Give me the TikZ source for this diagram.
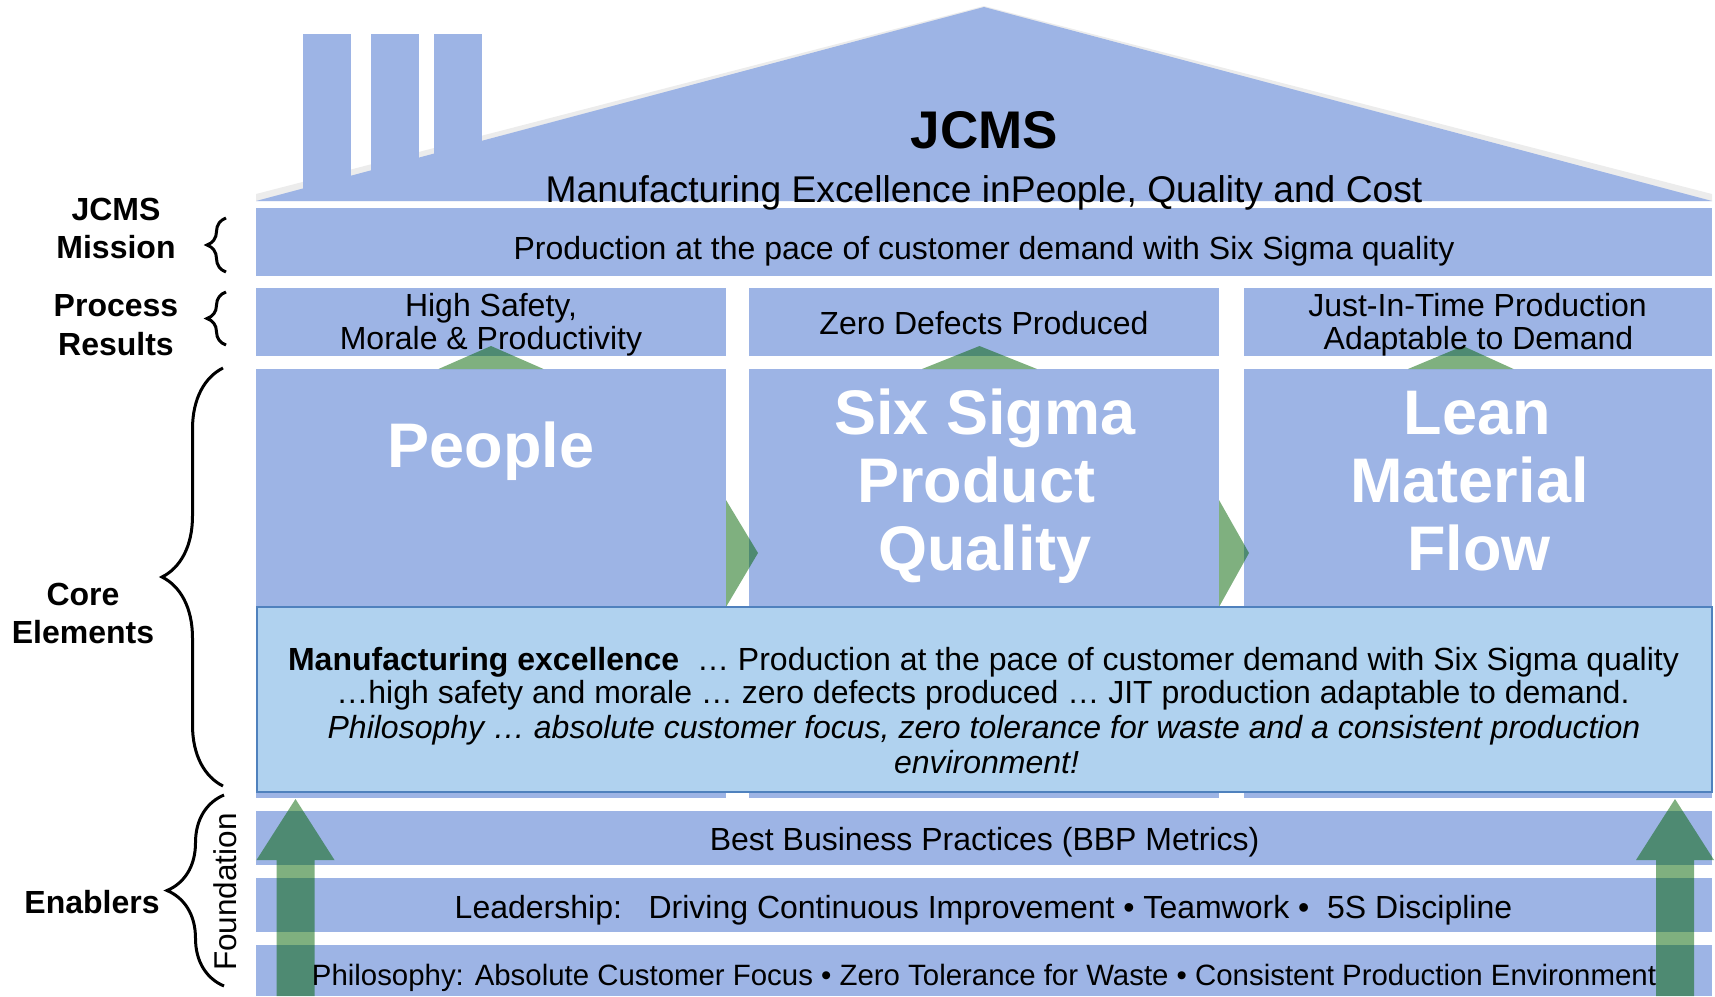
\documentclass[tikz,border=0pt]{standalone}
\usepackage{fontspec}
\setmainfont{Liberation Sans}
\usetikzlibrary{decorations.pathreplacing}
\definecolor{hblue}{RGB}{157,180,229}
\definecolor{lbox}{RGB}{176,210,239}
\definecolor{lborder}{RGB}{79,129,189}
\definecolor{grn}{RGB}{0,97,0}
\tikzset{
  txt/.style={inner sep=0pt, outer sep=0pt, anchor=base, font=\fontsize{32}{34}\selectfont},
  lbl/.style={txt, font=\fontsize{32}{34}\selectfont\bfseries},
  big/.style={txt, text=white, font=\fontsize{63}{68}\selectfont\bfseries},
  bar/.style={fill=hblue},
  tri/.style={fill=grn, fill opacity=0.5},
  brc/.style={draw=black, line width=3pt, decorate, decoration={brace, amplitude=#1}},
}
\begin{document}
\begin{tikzpicture}[x=1pt,y=-1pt]
\useasboundingbox (0,0) rectangle (1715,996);
% roof
\fill[gray!15] (256,201) -- (256,194) -- (984,6) -- (1712,194) -- (1712,201) -- cycle;
\fill[bar] (256,201) -- (984,7) -- (1712,201) -- cycle;
\fill[bar] (303,34) rectangle (351,200);
\fill[bar] (371,34) rectangle (419,200);
\fill[bar] (434,34) rectangle (482,200);
% mission bar
\fill[bar] (256,208) rectangle (1712,276);
% process results
\fill[bar] (256,288) rectangle (726,356);
\fill[bar] (749,288) rectangle (1219,356);
\fill[bar] (1244,288) rectangle (1712,356);
% core elements
\fill[bar] (256,369) rectangle (726,798);
\fill[bar] (749,369) rectangle (1219,798);
\fill[bar] (1244,369) rectangle (1712,798);
% foundation bars
\fill[bar] (256,811) rectangle (1712,865);
\fill[bar] (256,878) rectangle (1712,932);
\fill[bar] (256,945) rectangle (1712,996);
% green triangles
\fill[tri] (438.5,369) -- (491,346) -- (543.5,369) -- cycle;
\fill[tri] (922,369) -- (979.5,346) -- (1037,369) -- cycle;
\fill[tri] (1408,369) -- (1463,346) -- (1513.5,369) -- cycle;
\fill[tri] (726,500) -- (758,553) -- (726,607) -- cycle;
\fill[tri] (1219,500) -- (1249,553) -- (1219,607) -- cycle;
% light box
\filldraw[fill=lbox, draw=lborder, line width=2pt] (257,607) rectangle (1712,792);
% big arrows
\fill[tri] (276.5,996) -- (276.5,860) -- (256.5,860) -- (295.5,799) -- (334.5,860) -- (314.5,860) -- (314.5,996) -- cycle;
\fill[tri] (1656,996) -- (1656,860) -- (1636,860) -- (1675,799) -- (1714,860) -- (1694,860) -- (1694,996) -- cycle;
% roof texts
\node[txt, font=\fontsize{53}{60}\selectfont\bfseries] (rooftitle) at (984.5,148.3) {JCMS};
\node[txt, font=\fontsize{37.2}{40}\selectfont] (roofsub) at (984,202) {Manufacturing Excellence inPeople, Quality and Cost};
\node[txt] (mission) at (984,259) {Production at the pace of customer demand with Six Sigma quality};
% process results
\node[txt] (pr1a) at (491,316) {High Safety,};
\node[txt] (pr1b) at (491,349.5) {Morale \& Productivity};
\node[txt] (pr2) at (984,334) {Zero Defects Produced};
\node[txt] (pr3a) at (1477.5,316) {Just-In-Time Production};
\node[txt] (pr3b) at (1478.5,349.5) {Adaptable to Demand};
% core elements
\node[big] (people) at (491,467) {People};
\node[big] (ss1) at (985,434) {Six Sigma};
\node[big] (ss2) at (976,502) {Product};
\node[big] (ss3) at (985,570) {Quality};
\node[big] (lm1) at (1477.5,434) {Lean};
\node[big] (lm2) at (1469.5,502) {Material};
\node[big] (lm3) at (1479,570) {Flow};
% light box text
\node[txt] (lb1) at (983.5,670) {\textbf{Manufacturing excellence}\ \ … Production at the pace of customer demand with Six Sigma quality};
\node[txt] (lb2) at (983,703.5) {…high safety and morale … zero defects produced … JIT production adaptable to demand.};
\node[txt, font=\fontsize{32}{34}\selectfont\itshape] (lb3) at (984,738.5) {Philosophy … absolute customer focus, zero tolerance for waste and a consistent production};
\node[txt, font=\fontsize{32}{34}\selectfont\itshape] (lb4) at (986.5,773) {environment!};
% foundation texts
\node[txt] (f1) at (984.5,850.5) {Best Business Practices (BBP Metrics)};
\node[txt] (f2) at (983.5,918) {Leadership:\ \ \ Driving Continuous Improvement • Teamwork •\ \ 5S Discipline};
\node[txt, font=\fontsize{29.4}{32}\selectfont] (f3) at (984,985) {Philosophy: Absolute Customer Focus • Zero Tolerance for Waste • Consistent Production Environment};
\node[txt, rotate=90, font=\fontsize{31.5}{34}\selectfont] (found) at (236.5,892) {Foundation};
% left labels
\node[lbl] (l1a) at (116,220) {JCMS};
\node[lbl] (l1b) at (116,258) {Mission};
\node[lbl] (l2a) at (116,316) {Process};
\node[lbl] (l2b) at (116,355) {Results};
\node[lbl] (l3a) at (83,605) {Core};
\node[lbl] (l3b) at (83,643.5) {Elements};
\node[lbl] (l4) at (92,913) {Enablers};
% braces
\draw[brc=19pt] (226,272) -- (226,218);
\draw[brc=19pt] (226,345) -- (226,292);
\draw[brc=61pt] (223,786) -- (223,368);
\draw[brc=57pt] (224,986) -- (224,795);
\end{tikzpicture}
\end{document}
